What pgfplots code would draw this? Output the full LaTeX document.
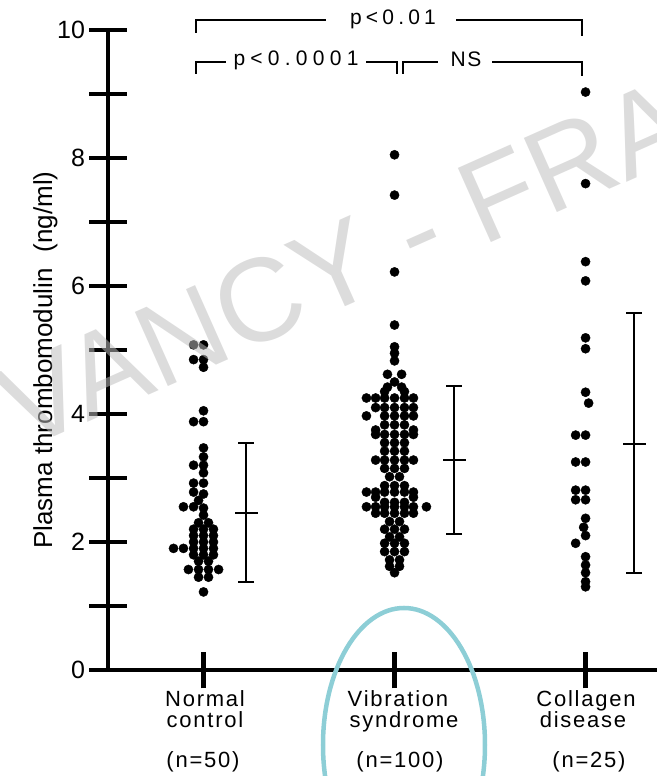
\documentclass[border=0pt]{standalone}
\usepackage{fontspec}
\setmainfont{Liberation Sans}
\newfontfamily\spaced[LetterSpace=8]{Liberation Sans}
\newfontfamily\pwide[LetterSpace=25]{Liberation Sans}
\newfontfamily\pmid[LetterSpace=20]{Liberation Sans}
\usepackage{pgfplots}
\pgfplotsset{compat=1.18}
\definecolor{ringcol}{RGB}{141,206,214}
\newcommand{\fs}[1]{\fontsize{#1bp}{#1bp}\selectfont}

\begin{document}
\begin{tikzpicture}
\path[use as bounding box] (0,0) rectangle (657bp,776bp);

\begin{axis}[
    at={(108bp,106bp)}, anchor=south west,
    scale only axis, width=549bp, height=640bp,
    xmin=0.5, xmax=3.374, ymin=0, ymax=10,
    axis x line=bottom, axis y line=left,
    axis line style={-},
    x axis line style={line width=4.2bp},
    y axis line style={line width=4.8bp},
    xtick={1,2,3}, xticklabels={},
    ytick={0,1,2,3,4,5,6,7,8,9,10},
    yticklabels={0,,2,,4,,6,,8,,10},
    tick align=center, major tick length=37bp,
    tick style={line width=4.2bp, black},
    yticklabel style={font=\fs{25}, xshift=-1bp},
    clip=false,
]

% individual values, normal control (n=50)
\addplot[only marks, mark=*, mark size=4.6bp, black] coordinates {
  (0.948,5.08) (1.0,5.08) (0.948,4.85) (1.0,4.85) (1.0,4.73)
  (1.0,4.05) (0.948,3.88) (1.0,3.88)
  (1.0,3.47) (1.0,3.33) (0.948,3.20) (1.0,3.20) (1.0,3.08)
  (0.948,2.92) (1.0,2.92) (0.948,2.78) (1.0,2.75) (0.974,2.65)
  (0.895,2.55) (0.948,2.55) (1.0,2.53) (1.0,2.42)
  (0.974,2.30) (1.026,2.30)
  (0.948,2.20) (1.0,2.20) (1.052,2.20)
  (0.948,2.10) (1.0,2.10) (1.052,2.10)
  (0.948,2.00) (1.0,2.00) (1.052,2.00)
  (0.843,1.90) (0.895,1.90) (0.948,1.90) (1.0,1.90) (1.052,1.90)
  (0.948,1.80) (1.0,1.80) (1.052,1.80)
  (0.974,1.70) (1.026,1.70)
  (0.921,1.57) (0.974,1.57) (1.026,1.57) (1.079,1.57)
  (0.974,1.45) (1.026,1.45)
  (1.0,1.22)
};

% vibration syndrome (n=100)
\addplot[only marks, mark=*, mark size=4.6bp, black] coordinates {
  (2.0,8.05) (2.0,7.42) (2.0,6.22) (2.0,5.39) (2.0,5.05) (2.0,4.95) (2.0,4.83)
  (1.963,4.62) (2.037,4.62) (2.0,4.50) (1.963,4.42) (2.037,4.42)
  (1.948,4.35) (2.052,4.35)
  (1.853,4.25) (1.901,4.25) (1.948,4.25) (2.0,4.25) (2.052,4.25) (2.099,4.25)
  (1.901,4.10) (1.948,4.10) (2.0,4.10) (2.052,4.10) (2.099,4.10)
  (1.853,3.97) (1.948,3.97) (2.0,3.97) (2.052,3.97) (2.099,3.97)
  (1.948,3.83) (2.0,3.83) (2.052,3.83)
  (1.901,3.75) (2.099,3.75)
  (1.901,3.68) (1.948,3.68) (2.0,3.68) (2.052,3.68) (2.099,3.68)
  (1.948,3.55) (2.0,3.55) (2.052,3.55)
  (1.948,3.42) (2.0,3.42) (2.052,3.42)
  (1.901,3.28) (1.948,3.28) (2.0,3.28) (2.052,3.28) (2.099,3.28)
  (1.948,3.15) (2.0,3.15) (2.052,3.15)
  (1.974,3.02) (2.026,3.02)
  (1.948,2.88) (2.0,2.88) (2.052,2.88)
  (1.853,2.78) (1.901,2.78) (1.948,2.78) (2.0,2.78) (2.052,2.78) (2.099,2.78)
  (1.901,2.70) (2.099,2.70)
  (1.948,2.62) (2.0,2.62) (2.052,2.62)
  (1.853,2.55) (1.901,2.55) (1.948,2.55) (2.0,2.55) (2.052,2.55) (2.099,2.55) (2.167,2.55)
  (1.901,2.45) (1.948,2.45) (2.0,2.45) (2.052,2.45) (2.099,2.45)
  (1.974,2.32) (2.026,2.32)
  (1.948,2.20) (2.0,2.20) (2.052,2.20)
  (1.974,2.08) (2.026,2.08)
  (1.948,1.98) (2.0,1.98) (2.052,1.98)
  (1.948,1.85) (2.0,1.85) (2.052,1.85)
  (1.974,1.72) (2.026,1.72)
  (1.974,1.62) (2.026,1.62)
  (2.0,1.52)
};

% collagen disease (n=25)
\addplot[only marks, mark=*, mark size=4.6bp, black] coordinates {
  (3.0,9.03) (3.0,7.60) (3.0,6.38) (3.0,6.08)
  (3.0,5.19) (3.0,5.02)
  (3.0,4.34) (3.016,4.17)
  (2.948,3.67) (3.0,3.67)
  (2.948,3.25) (3.0,3.25)
  (2.948,2.81) (3.0,2.81) (2.948,2.66) (3.0,2.66)
  (3.0,2.37) (2.99,2.23) (3.0,2.10) (2.948,1.98)
  (3.0,1.77) (3.0,1.64) (3.0,1.52) (3.0,1.38) (3.0,1.30)
};

% mean +- SD
\addplot[black, line width=2.2bp, only marks, mark=-, mark size=11.5bp,
  error bars/.cd, y dir=both, y explicit,
  error bar style={line width=2.2bp},
  error mark options={line width=2.4bp, mark size=8bp, rotate=90}]
  coordinates {
    (1.223,2.45) += (0,1.10) -= (0,1.075)
    (2.312,3.28) += (0,1.16) -= (0,1.155)
    (3.254,3.53) += (0,2.05) -= (0,2.01)
  };
\end{axis}

% annotations in image pixel coordinates (y downwards)
\begin{scope}[x=1bp, y=-1bp, shift={(0bp,776bp)}]
  \node[rotate=90, anchor=base, font=\fs{26}] at (52,360)
    {Plasma thrombomodulin\hspace{16bp}(ng/ml)};

  \begin{scope}[line width=1.8bp]
    \draw (196,33) -- (196,20) -- (326,20);
    \draw (456,20) -- (582,20) -- (582,36);
    \node[font=\pmid\fs{21}] at (393,19) {p<0.01};
    \draw (196,74) -- (196,62) -- (226,62);
    \draw (366,62) -- (397,62) -- (397,74);
    \node[font=\pwide\fs{21}] at (296,60) {p<0.0001};
    \draw (403,74) -- (403,62) -- (438,62);
    \draw (492,62) -- (582,62) -- (582,76);
    \node[font=\spaced\fs{21}] at (466,59) {NS};
  \end{scope}

  \begin{scope}[font=\spaced\fs{22}]
    \node[anchor=base] at (205,707) {Normal};
    \node[anchor=base] at (205,728) {control};
    \node[anchor=base] at (203,768) {(n=50)};
    \node[anchor=base] at (398,707) {Vibration};
    \node[anchor=base] at (404,728) {syndrome};
    \node[anchor=base] at (400,768) {(n=100)};
    \node[anchor=base] at (586,707) {Collagen};
    \node[anchor=base] at (583,728) {disease};
    \node[anchor=base] at (589,768) {(n=25)};
  \end{scope}

  \begin{scope}
    \clip (0,0) rectangle (657,776);
    \node[rotate=24, anchor=base west, text=black!26, opacity=0.53,
          font=\fs{118}] at (20,452) {VANCY - FRAN};
    \draw[ringcol, line width=4.5bp] (404,745) ellipse [x radius=81bp, y radius=137bp];
  \end{scope}
\end{scope}
\end{tikzpicture}
\end{document}
